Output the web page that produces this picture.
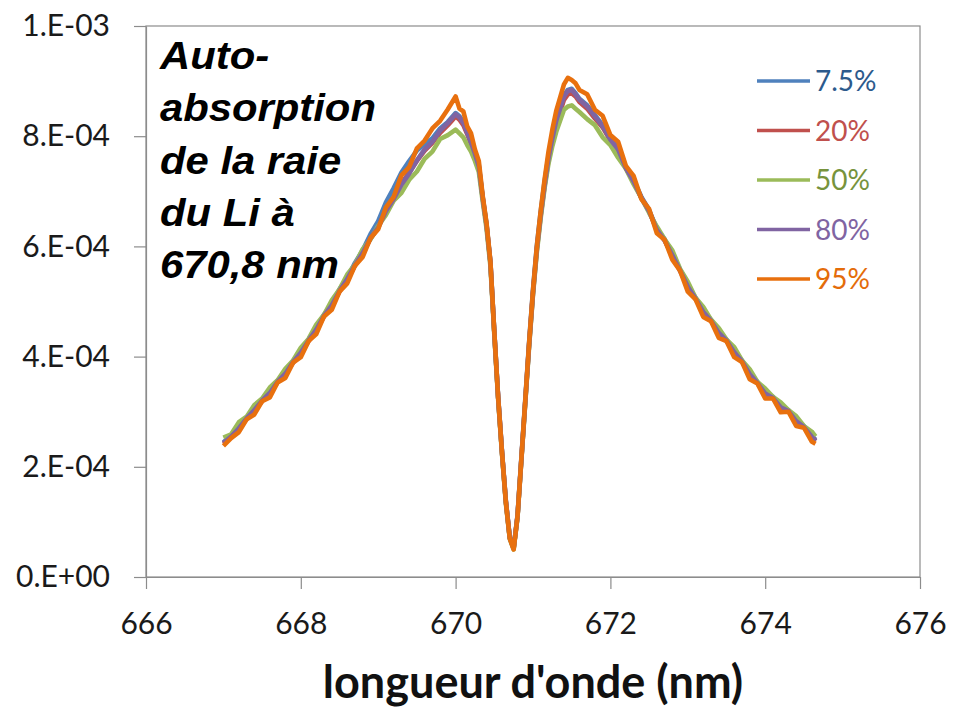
<!DOCTYPE html>
<html>
<head>
<meta charset="utf-8">
<script src="https://cdn.jsdelivr.net/npm/d3@7"></script>
<style>
	body { margin: 0; background: #fff; }
	svg { display: block; }
</style>
</head>
<body>
<div id="chart"></div>
<script>
// wavelength (nm), shared by every series
const wavelengths = [
	667.0, 667.1, 667.2, 667.3, 667.4, 667.5, 667.6, 667.7, 667.8, 667.9,
	668.0, 668.1, 668.2, 668.3, 668.4, 668.5, 668.6, 668.7, 668.8, 668.9,
	669.0, 669.1, 669.2, 669.3, 669.4, 669.5, 669.6, 669.7, 669.8, 669.9,
	670.0, 670.05, 670.1, 670.15, 670.2, 670.25, 670.3, 670.35, 670.4, 670.45,
	670.5, 670.55, 670.6, 670.65, 670.7, 670.75, 670.8, 670.85, 670.9, 670.95,
	671.0, 671.05, 671.1, 671.15, 671.2, 671.25, 671.3, 671.35, 671.4, 671.45,
	671.5, 671.55, 671.6, 671.7, 671.8, 671.9, 672.0, 672.1, 672.2, 672.3,
	672.4, 672.5, 672.6, 672.7, 672.8, 672.9, 673.0, 673.1, 673.2, 673.3,
	673.4, 673.5, 673.6, 673.7, 673.8, 673.9, 674.0, 674.1, 674.2, 674.3,
	674.4, 674.5, 674.6, 674.65
]

// intensities, in units of 1e-4
const serie75 = [
	2.44, 2.57, 2.72, 2.89, 3.05, 3.22, 3.36, 3.56, 3.71, 3.92,
	4.09, 4.31, 4.51, 4.76, 4.95, 5.22, 5.43, 5.70, 5.93, 6.22,
	6.46, 6.80, 7.06, 7.34, 7.55, 7.74, 7.86, 7.96, 8.14, 8.26,
	8.42, 8.36, 8.26, 8.08, 7.90, 7.70, 7.48, 6.90, 6.40, 5.72,
	4.46, 3.27, 2.27, 1.37, 0.72, 0.52, 1.12, 2.17, 3.22, 4.27,
	5.22, 6.02, 6.64, 7.18, 7.64, 8.00, 8.30, 8.52, 8.74, 8.84,
	8.86, 8.78, 8.68, 8.56, 8.38, 8.20, 7.96, 7.78, 7.44, 7.20,
	6.90, 6.66, 6.32, 6.13, 5.86, 5.58, 5.29, 5.07, 4.83, 4.67,
	4.45, 4.31, 4.10, 3.93, 3.70, 3.54, 3.35, 3.27, 3.10, 3.03,
	2.85, 2.74, 2.57, 2.49
]
const serie20 = [
	2.42, 2.54, 2.69, 2.87, 3.02, 3.19, 3.34, 3.53, 3.68, 3.89,
	4.06, 4.28, 4.48, 4.73, 4.92, 5.18, 5.40, 5.65, 5.87, 6.14,
	6.35, 6.66, 6.88, 7.14, 7.34, 7.55, 7.74, 7.88, 8.06, 8.20,
	8.36, 8.30, 8.20, 8.04, 7.86, 7.66, 7.44, 6.88, 6.38, 5.70,
	4.44, 3.25, 2.25, 1.36, 0.71, 0.52, 1.10, 2.14, 3.18, 4.22,
	5.15, 5.94, 6.56, 7.10, 7.56, 7.92, 8.22, 8.44, 8.66, 8.76,
	8.78, 8.72, 8.62, 8.50, 8.32, 8.16, 7.92, 7.74, 7.42, 7.18,
	6.88, 6.64, 6.30, 6.11, 5.84, 5.56, 5.27, 5.05, 4.81, 4.65,
	4.43, 4.29, 4.08, 3.91, 3.68, 3.52, 3.33, 3.25, 3.08, 3.01,
	2.83, 2.72, 2.55, 2.47
]
const serie50 = [
	2.53, 2.59, 2.81, 2.91, 3.12, 3.24, 3.44, 3.57, 3.78, 3.93,
	4.16, 4.32, 4.58, 4.76, 5.02, 5.22, 5.49, 5.67, 5.95, 6.13,
	6.37, 6.57, 6.83, 6.97, 7.21, 7.36, 7.59, 7.72, 7.95, 8.02,
	8.12, 8.05, 7.98, 7.84, 7.72, 7.55, 7.35, 6.82, 6.32, 5.64,
	4.40, 3.22, 2.22, 1.33, 0.69, 0.50, 1.08, 2.12, 3.15, 4.18,
	5.12, 5.90, 6.52, 7.06, 7.50, 7.82, 8.08, 8.28, 8.48, 8.54,
	8.56, 8.50, 8.44, 8.31, 8.20, 7.98, 7.84, 7.61, 7.41, 7.13,
	6.88, 6.61, 6.36, 6.13, 5.93, 5.59, 5.36, 5.07, 4.90, 4.67,
	4.52, 4.31, 4.17, 3.93, 3.77, 3.54, 3.42, 3.27, 3.17, 3.03,
	2.92, 2.74, 2.64, 2.55
]
const serie80 = [
	2.43, 2.55, 2.70, 2.88, 3.03, 3.20, 3.34, 3.54, 3.69, 3.90,
	4.07, 4.29, 4.49, 4.74, 4.93, 5.19, 5.41, 5.66, 5.88, 6.15,
	6.34, 6.64, 6.86, 7.12, 7.32, 7.56, 7.76, 7.90, 8.10, 8.24,
	8.40, 8.34, 8.24, 8.06, 7.88, 7.68, 7.45, 6.88, 6.38, 5.70,
	4.44, 3.25, 2.25, 1.36, 0.71, 0.52, 1.10, 2.14, 3.18, 4.22,
	5.16, 5.96, 6.58, 7.12, 7.60, 7.96, 8.28, 8.50, 8.72, 8.82,
	8.84, 8.76, 8.66, 8.54, 8.36, 8.18, 7.94, 7.76, 7.42, 7.18,
	6.88, 6.64, 6.30, 6.11, 5.84, 5.56, 5.27, 5.05, 4.81, 4.65,
	4.43, 4.29, 4.08, 3.91, 3.68, 3.52, 3.33, 3.25, 3.08, 3.01,
	2.83, 2.72, 2.55, 2.47
]
const serie95 = [
	2.38, 2.52, 2.63, 2.86, 2.95, 3.19, 3.26, 3.53, 3.61, 3.89,
	3.99, 4.28, 4.41, 4.73, 4.85, 5.18, 5.33, 5.65, 5.81, 6.15,
	6.31, 6.71, 6.90, 7.29, 7.44, 7.78, 7.92, 8.14, 8.28, 8.49,
	8.72, 8.50, 8.45, 8.18, 8.05, 7.76, 7.55, 6.92, 6.42, 5.72,
	4.45, 3.25, 2.25, 1.35, 0.70, 0.50, 1.10, 2.15, 3.20, 4.25,
	5.20, 6.00, 6.65, 7.22, 7.72, 8.12, 8.46, 8.70, 8.94, 9.06,
	9.02, 8.96, 8.84, 8.76, 8.48, 8.37, 8.02, 7.90, 7.46, 7.28,
	6.86, 6.68, 6.24, 6.12, 5.76, 5.56, 5.18, 5.04, 4.72, 4.64,
	4.34, 4.28, 3.99, 3.90, 3.59, 3.51, 3.24, 3.24, 2.99, 3.00,
	2.74, 2.71, 2.46, 2.42
]

const seriesNames = ['7.5%', '20%', '50%', '80%', '95%']
const seriesValues = [serie75, serie20, serie50, serie80, serie95]
const lineColors = ['#4f81bd', '#c0504d', '#9bbb59', '#8064a2', '#e8700e']
const labelColors = ['#2c5a8c', '#c0504d', '#77933c', '#8064a2', '#e46c0a']

const xTicks = [666, 668, 670, 672, 674, 676]
const yTicks = [0, 2, 4, 6, 8, 10]
const yTickLabels = ['0.E+00', '2.E-04', '4.E-04', '6.E-04', '8.E-04', '1.E-03']
const titleLines = ['Auto-', 'absorption', 'de la raie', 'du Li à', '670,8 nm']

const width = 953,
	height = 708
const margin = { top: 26, right: 33, bottom: 131, left: 146 }

const svg = d3
	.select('#chart')
	.append('svg')
	.attr('width', width)
	.attr('height', height)

svg.append('rect')
	.attr('width', width)
	.attr('height', height)
	.attr('fill', '#fff')

const x = d3
	.scaleLinear()
	.domain([666, 676])
	.range([margin.left, width - margin.right])

const y = d3
	.scaleLinear()
	.domain([0, 10])
	.range([height - margin.bottom, margin.top])

// plot frame
svg.append('rect')
	.attr('x', x(666))
	.attr('y', y(10))
	.attr('width', x(676) - x(666))
	.attr('height', y(0) - y(10))
	.attr('fill', 'none')
	.attr('stroke', '#8c8c8c')
	.attr('stroke-width', 1.2)

const xAxis = svg
	.append('g')
	.attr('transform', `translate(0,${y(0)})`)
	.call(
		d3
			.axisBottom(x)
			.tickValues(xTicks)
			.tickSize(12)
			.tickSizeOuter(0)
			.tickPadding(24)
			.tickFormat(d3.format('d'))
	)

const yAxis = svg
	.append('g')
	.attr('transform', `translate(${x(666)},0)`)
	.call(
		d3
			.axisLeft(y)
			.tickValues(yTicks)
			.tickSize(12)
			.tickSizeOuter(0)
			.tickPadding(24)
			.tickFormat((d, i) => yTickLabels[i])
	)

;[xAxis, yAxis].forEach(axis => {
	axis.selectAll('path, line')
		.attr('stroke', '#8c8c8c')
		.attr('stroke-width', 1.2)
	axis.selectAll('text')
		.attr('fill', '#1a1a1a')
		.style('font-family', 'Lato, sans-serif')
		.style('font-size', '30px')
})

const line = d3
	.line()
	.x((d, i) => x(wavelengths[i]))
	.y(d => y(d))

svg.append('g')
	.selectAll('path')
	.data(seriesValues)
	.enter()
	.append('path')
	.attr('d', d => line(d))
	.attr('fill', 'none')
	.attr('stroke', (d, i) => lineColors[i])
	.attr('stroke-width', 4.6)
	.attr('stroke-linejoin', 'round')

// legend
const legend = svg
	.append('g')
	.selectAll('g')
	.data(seriesNames)
	.enter()
	.append('g')
	.attr('transform', (d, i) => `translate(757,${81 + i * 49.5})`)

legend
	.append('line')
	.attr('x1', 0)
	.attr('x2', 53)
	.attr('stroke', (d, i) => lineColors[i])
	.attr('stroke-width', 3.5)

legend
	.append('text')
	.attr('x', 58)
	.attr('dy', '0.36em')
	.attr('fill', (d, i) => labelColors[i])
	.style('font-family', 'Lato, sans-serif')
	.style('font-size', '28px')
	.text(d => d)

// annotation in the top left corner
svg.append('g')
	.attr('transform', 'translate(160,0) scale(1.1,1)')
	.selectAll('text')
	.data(titleLines)
	.enter()
	.append('text')
	.attr('y', (d, i) => 69 + i * 52.3)
	.style('font-family', '"Liberation Sans", Arial, sans-serif')
	.style('font-weight', 'bold')
	.style('font-style', 'italic')
	.style('font-size', '38px')
	.text(d => d)

svg.append('text')
	.attr('x', (x(666) + x(676)) / 2)
	.attr('y', 698)
	.attr('text-anchor', 'middle')
	.attr('fill', '#111')
	.style('font-family', 'Lato, sans-serif')
	.style('font-weight', 'bold')
	.style('font-size', '45px')
	.text("longueur d'onde (nm)")
</script>
</body>
</html>
